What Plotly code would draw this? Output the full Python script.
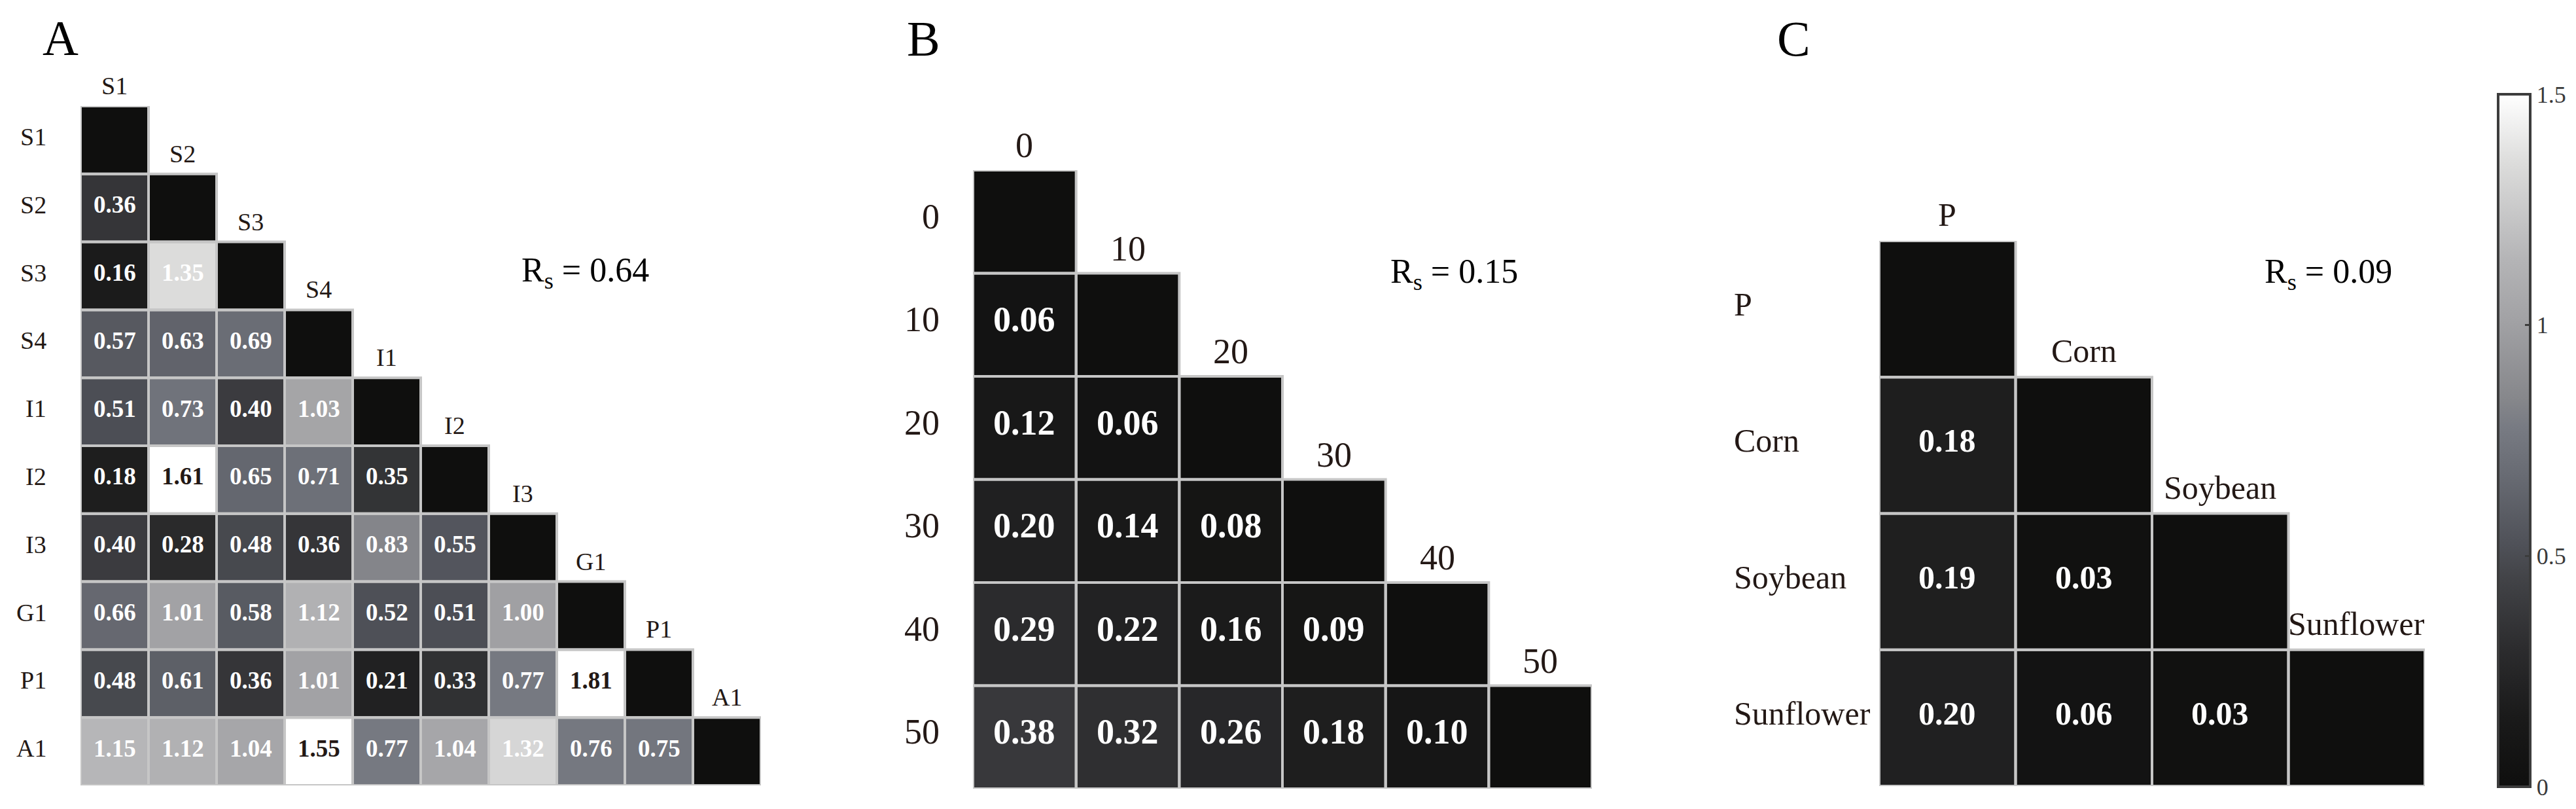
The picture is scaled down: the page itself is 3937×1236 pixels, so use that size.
import plotly.graph_objects as go

W, H = 3937, 1236

# ---------------- data ----------------
a_labels = ["S1", "S2", "S3", "S4", "I1", "I2", "I3", "G1", "P1", "A1"]
a_rows = [
    [],
    [0.36],
    [0.16, 1.35],
    [0.57, 0.63, 0.69],
    [0.51, 0.73, 0.40, 1.03],
    [0.18, 1.61, 0.65, 0.71, 0.35],
    [0.40, 0.28, 0.48, 0.36, 0.83, 0.55],
    [0.66, 1.01, 0.58, 1.12, 0.52, 0.51, 1.00],
    [0.48, 0.61, 0.36, 1.01, 0.21, 0.33, 0.77, 1.81],
    [1.15, 1.12, 1.04, 1.55, 0.77, 1.04, 1.32, 0.76, 0.75],
]
a_rs = "0.64"

b_labels = ["0", "10", "20", "30", "40", "50"]
b_rows = [
    [],
    [0.06],
    [0.12, 0.06],
    [0.20, 0.14, 0.08],
    [0.29, 0.22, 0.16, 0.09],
    [0.38, 0.32, 0.26, 0.18, 0.10],
]
b_rs = "0.15"

c_labels = ["P", "Corn", "Soybean", "Sunflower"]
c_rows = [
    [],
    [0.18],
    [0.19, 0.03],
    [0.20, 0.06, 0.03],
]
c_rs = "0.09"

diag_value = 0.0
zmin, zmax = 0.0, 1.5
cbar_tickvals = [0, 0.5, 1, 1.5]
cbar_ticktext = ["0", "0.5", "1", "1.5"]

# ---------------- style ----------------
FONT = "Liberation Serif"
INK = "#231815"
GRID = "#c6c6c6"
colorscale = [
    [0.00, "#0f0f0e"],
    [0.10, "#1a1a1a"],
    [0.20, "#2c2c2e"],
    [0.30, "#424347"],
    [0.35, "#4f5158"],
    [0.45, "#686b73"],
    [0.52, "#787b83"],
    [0.56, "#86878b"],
    [0.67, "#a1a1a4"],
    [0.76, "#b4b4b6"],
    [0.90, "#dcdcdb"],
    [1.00, "#ffffff"],
]

panels = [
    dict(labels=a_labels, rows=a_rows, rs=a_rs, box=(115, 154, 1155, 1192),
         lab_size=38, val_size=37, top_shift=31, left_anchor="right", left_shift=-50,
         letter="A", letter_pos=(84, 50), rs_pos=(787, 408)),
    dict(labels=b_labels, rows=b_rows, rs=b_rs, box=(1479, 252, 2425, 1197),
         lab_size=54, val_size=54, top_shift=38, left_anchor="right", left_shift=-49,
         letter="B", letter_pos=(1403, 51), rs_pos=(2115, 411)),
    dict(labels=c_labels, rows=c_rows, rs=c_rs, box=(2864, 360, 3698, 1193),
         lab_size=50, val_size=50, top_shift=40, left_anchor="left", left_shift=-224,
         letter="C", letter_pos=(2733, 51), rs_pos=(3451, 411)),
]

fig = go.Figure()
shapes, annotations = [], []
layout_axes = {}

for k, p in enumerate(panels, start=1):
    labels, rows = p["labels"], p["rows"]
    n = len(labels)
    xa, ya = ("x" if k == 1 else f"x{k}"), ("y" if k == 1 else f"y{k}")
    x0, y0, x1, y1 = p["box"]

    z = []
    for i in range(n):
        row = []
        for j in range(n):
            if j < i:
                row.append(rows[i][j])
            elif j == i:
                row.append(diag_value)
            else:
                row.append(None)
        z.append(row)

    hm = dict(z=z, x=list(range(n)), y=list(range(n)), colorscale=colorscale,
              zmin=zmin, zmax=zmax, xaxis=xa, yaxis=ya, hoverinfo="skip",
              showscale=(k == 1))
    if k == 1:
        hm["colorbar"] = dict(
            x=3810 / W, xanchor="left", xpad=0, ypad=0,
            y=1 - 1194 / H, yanchor="bottom", lenmode="pixels", len=1058,
            thickness=49, outlinewidth=4, outlinecolor="#3c3c3c",
            tickvals=cbar_tickvals, ticktext=cbar_ticktext,
            ticks="inside", ticklen=10, tickwidth=3, tickcolor="#3c3c3c",
            tickfont=dict(family=FONT, size=36, color="#3a3a3a"),
        )
    fig.add_trace(go.Heatmap(**hm))

    # values in cells
    vshift = round(0.14 * p["val_size"])
    for i in range(n):
        for j in range(i):
            v = rows[i][j]
            annotations.append(dict(
                xref=xa, yref=ya, x=j, y=i, text=f"<b>{v:.2f}</b>", showarrow=False,
                xanchor="center", yanchor="middle", yshift=vshift,
                font=dict(family=FONT, size=p["val_size"],
                          color=(INK if v > zmax else "#ffffff"))))

    # cell borders
    for i in range(n):
        for j in range(i + 1):
            shapes.append(dict(type="rect", xref=xa, yref=ya,
                               x0=j - 0.5, x1=j + 0.5, y0=i - 0.5, y1=i + 0.5,
                               line=dict(color=GRID, width=4), fillcolor="rgba(0,0,0,0)"))

    # labels
    lshift = round(0.14 * p["lab_size"])
    for j, lab in enumerate(labels):
        annotations.append(dict(xref=xa, yref=ya, x=j, y=j - 0.5, text=lab, showarrow=False,
                                xanchor="center", yanchor="middle", yshift=p["top_shift"],
                                font=dict(family=FONT, size=p["lab_size"], color=INK)))
        annotations.append(dict(xref=xa, yref=ya, x=-0.5, y=j, text=lab, showarrow=False,
                                xanchor=p["left_anchor"], yanchor="middle",
                                xshift=p["left_shift"], yshift=lshift,
                                font=dict(family=FONT, size=p["lab_size"], color=INK)))

    # Rs annotation
    rx, ry = p["rs_pos"]
    annotations.append(dict(xref="paper", yref="paper", x=rx / W, y=1 - ry / H,
                            text=f"R<sub>s</sub> = {p['rs']}", showarrow=False,
                            xanchor="left", yanchor="middle",
                            font=dict(family=FONT, size=52, color="#000000")))
    # panel letter
    lx, ly = p["letter_pos"]
    annotations.append(dict(xref="paper", yref="paper", x=lx / W, y=1 - ly / H,
                            text=p["letter"], showarrow=False, xanchor="center", yanchor="middle",
                            font=dict(family=FONT, size=76, color="#000000")))

    axis_common = dict(showgrid=False, zeroline=False, showticklabels=False, ticks="",
                       showline=False, fixedrange=True)
    xkey = "xaxis" if k == 1 else f"xaxis{k}"
    ykey = "yaxis" if k == 1 else f"yaxis{k}"
    layout_axes[xkey] = dict(domain=[x0 / W, x1 / W], range=[-0.5, n - 0.5],
                             anchor=ya, **axis_common)
    layout_axes[ykey] = dict(domain=[1 - y1 / H, 1 - y0 / H], range=[n - 0.5, -0.5],
                             anchor=xa, **axis_common)

fig.update_layout(
    width=W, height=H, margin=dict(l=0, r=0, t=0, b=0),
    paper_bgcolor="#ffffff", plot_bgcolor="rgba(0,0,0,0)",
    showlegend=False, shapes=shapes, annotations=annotations,
    **layout_axes,
)

fig.write_html("out.html")
